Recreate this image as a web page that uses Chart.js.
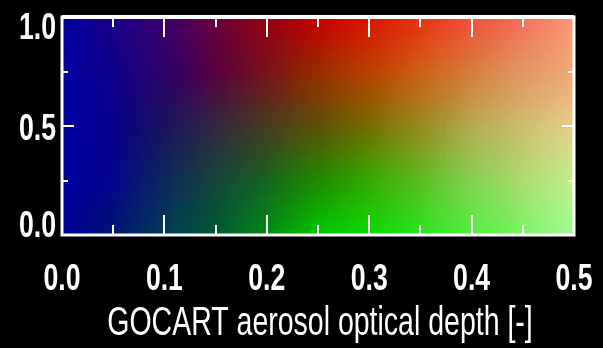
<!DOCTYPE html>
<html>
<head>
<meta charset="utf-8">
<script src="https://cdn.jsdelivr.net/npm/chart.js@4.4.1/dist/chart.umd.min.js"></script>
<style>
  html, body { margin: 0; padding: 0; background: #000; }
  #wrap { width: 603px; height: 348px; }
</style>
</head>
<body>
<div id="wrap"><canvas id="legend2d" width="603" height="348"></canvas></div>
<script>
// Aerosol optical depth anchors (x) and fraction anchors (y) of the 2-D colour key
const aodAnchors = [0.00, 0.05, 0.10, 0.15, 0.20, 0.25, 0.30, 0.35, 0.40, 0.45, 0.50];
const fracAnchors = [0.00, 0.25, 0.50, 0.75, 1.00];

// RGB of the key along each fraction row, one entry per AOD anchor
const rowFrac000 = [[0,0,150],[0,20,110],[0,60,90],[0,90,50],[0,140,20],[0,200,0],[10,220,0],[40,230,30],[80,240,60],[120,245,100],[160,250,150]];
const rowFrac025 = [[0,0,160],[5,5,140],[10,40,90],[20,70,60],[20,100,30],[30,140,0],[50,170,0],[90,190,30],[130,210,80],[170,220,110],[190,240,140]];
const rowFrac050 = [[0,0,160],[5,0,140],[25,20,90],[50,40,65],[70,60,30],[90,80,10],[115,110,0],[150,140,30],[180,170,80],[205,190,110],[230,205,140]];
const rowFrac075 = [[0,0,160],[15,0,140],[45,0,105],[85,0,65],[120,20,25],[150,45,0],[185,65,0],[205,95,20],[215,125,60],[225,150,100],[240,170,120]];
const rowFrac100 = [[0,0,160],[25,0,135],[60,0,110],[105,0,60],[150,0,15],[195,0,0],[220,20,0],[232,50,20],[240,80,60],[245,110,90],[250,150,120]];
const colourRows = [rowFrac000, rowFrac025, rowFrac050, rowFrac075, rowFrac100];

// Axis ticks
const aodLabelTicks = [0.0, 0.1, 0.2, 0.3, 0.4, 0.5];
const aodMinorTicks = [0.05, 0.15, 0.25, 0.35, 0.45];
const fracLabelTicks = [0.0, 0.5, 1.0];
const fracMinorTicks = [0.25, 0.75];

const xTitle = 'GOCART aerosol optical depth [-]';
const FONT = "'Liberation Sans', Arial, sans-serif";

// bilinear lookup in the colour table
function locate(arr, v) {
  let i = 0;
  while (i < arr.length - 2 && v > arr[i + 1]) i++;
  const t = (v - arr[i]) / (arr[i + 1] - arr[i]);
  return [i, Math.min(1, Math.max(0, t))];
}
function keyColour(aod, frac) {
  const [ix, tx] = locate(aodAnchors, aod);
  const [iy, ty] = locate(fracAnchors, frac);
  const c = [0, 0, 0];
  for (let k = 0; k < 3; k++) {
    const a = colourRows[iy][ix][k] * (1 - tx) + colourRows[iy][ix + 1][k] * tx;
    const b = colourRows[iy + 1][ix][k] * (1 - tx) + colourRows[iy + 1][ix + 1][k] * tx;
    c[k] = Math.round(a * (1 - ty) + b * ty);
  }
  return 'rgb(' + c.join(',') + ')';
}

// condensed text: draw with a horizontal squeeze
function squeezedText(ctx, text, x, y, font, squeeze, align) {
  ctx.save();
  ctx.font = font;
  ctx.textBaseline = 'alphabetic';
  const w = ctx.measureText(text).width * squeeze;
  let left = x;
  if (align === 'center') left = x - w / 2;
  else if (align === 'right') left = x - w;
  ctx.translate(left, y);
  ctx.scale(squeeze, 1);
  ctx.textAlign = 'left';
  ctx.fillText(text, 0, 0);
  ctx.restore();
}

const keyPlugin = {
  id: 'colourKey',
  beforeDraw(chart) {
    const { ctx } = chart;
    ctx.save();
    ctx.fillStyle = '#000';
    ctx.fillRect(0, 0, chart.width, chart.height);
    ctx.restore();
  },
  beforeDatasetsDraw(chart) {
    const { ctx, scales: { x, y } } = chart;
    const nx = 100, ny = 50;
    const dx = (x.max - x.min) / nx, dy = (y.max - y.min) / ny;
    ctx.save();
    for (let i = 0; i < nx; i++) {
      const a0 = x.min + i * dx, a1 = a0 + dx;
      const px0 = Math.floor(x.getPixelForValue(a0));
      const px1 = Math.ceil(x.getPixelForValue(a1));
      for (let j = 0; j < ny; j++) {
        const f0 = y.min + j * dy, f1 = f0 + dy;
        const py0 = Math.floor(y.getPixelForValue(f1));
        const py1 = Math.ceil(y.getPixelForValue(f0));
        ctx.fillStyle = keyColour(a0 + dx / 2, f0 + dy / 2);
        ctx.fillRect(px0, py0, px1 - px0 + 1, py1 - py0 + 1);
      }
    }
    ctx.restore();
  },
  afterDraw(chart) {
    const { ctx, chartArea: ca, scales: { x, y } } = chart;
    ctx.save();
    ctx.strokeStyle = '#ffffff';
    ctx.lineWidth = 2;
    ctx.beginPath();
    const xTick = (v, len) => {
      const p = Math.round(x.getPixelForValue(v));
      ctx.moveTo(p, ca.top); ctx.lineTo(p, ca.top + len);
      ctx.moveTo(p, ca.bottom); ctx.lineTo(p, ca.bottom - len);
    };
    const yTick = (v, len) => {
      const p = Math.round(y.getPixelForValue(v));
      ctx.moveTo(ca.left, p); ctx.lineTo(ca.left + len, p);
      ctx.moveTo(ca.right, p); ctx.lineTo(ca.right - len, p);
    };
    aodLabelTicks.forEach(v => xTick(v, 20));
    aodMinorTicks.forEach(v => xTick(v, 10));
    fracLabelTicks.forEach(v => yTick(v, 12));
    fracMinorTicks.forEach(v => yTick(v, 6));
    ctx.stroke();
    // frame
    ctx.lineWidth = 3;
    ctx.strokeRect(ca.left, ca.top, ca.right - ca.left, ca.bottom - ca.top);
    ctx.lineWidth = 4;
    ctx.beginPath();
    ctx.moveTo(ca.left, ca.top); ctx.lineTo(ca.right, ca.top);
    ctx.stroke();

    // tick labels and axis title
    ctx.fillStyle = '#ffffff';
    const tickFont = 'bold 37px ' + FONT;
    const capH = 27;
    aodLabelTicks.forEach(v => {
      squeezedText(ctx, v.toFixed(1), x.getPixelForValue(v), ca.bottom + 55, tickFont, 0.72, 'center');
    });
    fracLabelTicks.forEach(v => {
      const p = y.getPixelForValue(v);
      let base = p + capH / 2;
      base = Math.max(base, ca.top - 5 + capH);
      base = Math.min(base, ca.bottom + 2);
      squeezedText(ctx, v.toFixed(1), ca.left - 6, base, tickFont, 0.72, 'right');
    });
    squeezedText(ctx, xTitle, (ca.left + ca.right) / 2 + 2, 335, '41px ' + FONT, 0.695, 'center');
    ctx.restore();
  }
};

new Chart(document.getElementById('legend2d'), {
  type: 'scatter',
  data: { datasets: [{ data: [], pointRadius: 0 }] },
  plugins: [keyPlugin],
  options: {
    responsive: false,
    animation: false,
    layout: { padding: { left: 0, top: 17, right: 29, bottom: 0 } },
    plugins: { legend: { display: false }, tooltip: { enabled: false } },
    scales: {
      x: {
        type: 'linear', min: 0, max: 0.5,
        afterFit(s) { s.height = 113; s.paddingLeft = 0; s.paddingRight = 0; },
        afterBuildTicks(s) { s.ticks = aodLabelTicks.map(v => ({ value: v })); },
        grid: { display: false, drawTicks: false },
        border: { display: false },
        ticks: { display: false },
        title: { display: false, text: xTitle }
      },
      y: {
        type: 'linear', min: 0, max: 1,
        afterFit(s) { s.width = 62; s.paddingTop = 0; s.paddingBottom = 0; },
        afterBuildTicks(s) { s.ticks = fracLabelTicks.map(v => ({ value: v })); },
        grid: { display: false, drawTicks: false },
        border: { display: false },
        ticks: { display: false }
      }
    }
  }
});
</script>
</body>
</html>
